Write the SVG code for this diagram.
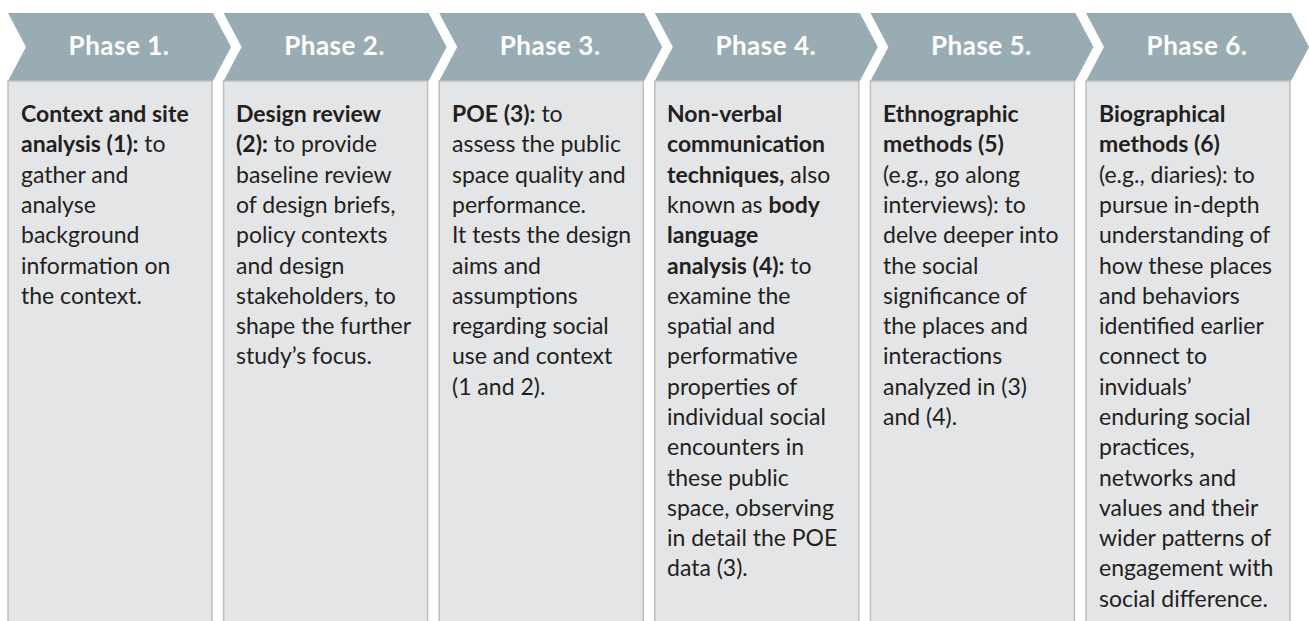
<svg xmlns="http://www.w3.org/2000/svg" width="1309" height="621" viewBox="0 0 1309 621">
<style>
.chev{fill:#9AACB3}
.box{fill:#E4E5E7;stroke:#BDBEC1;stroke-width:1.5}
.hd{font-family:Lato,"Open Sans",sans-serif;font-weight:bold;font-size:26px;letter-spacing:0.5px;fill:#FFFFFF;text-anchor:middle}
.bd{font-family:Lato,"Open Sans",sans-serif;font-size:23px;fill:#231F20}
.b{font-weight:bold}
</style>
<rect width="1309" height="621" fill="#FFFFFF"/>
<g id="phase1">
<polygon class="chev" points="8,13 213,13 231,47 213,81 8,81 26,47"/>
<rect class="box" x="8" y="81" width="204" height="560"/>
<text class="hd" x="119" y="55">Phase 1.</text>
<text class="bd" x="21" y="122"><tspan class="b">Context and site</tspan><tspan x="21" dy="30.3" class="b">analysis (1):</tspan> to<tspan x="21" dy="30.3">gather and</tspan><tspan x="21" dy="30.3">analyse</tspan><tspan x="21" dy="30.3">background</tspan><tspan x="21" dy="30.3">information on</tspan><tspan x="21" dy="30.3">the context.</tspan></text>
</g>
<g id="phase2">
<polygon class="chev" points="223.6,13 428.6,13 446.6,47 428.6,81 223.6,81 241.6,47"/>
<rect class="box" x="223.6" y="81" width="204" height="560"/>
<text class="hd" x="334.6" y="55">Phase 2.</text>
<text class="bd" x="236" y="122"><tspan class="b">Design review</tspan><tspan x="236" dy="30.3" class="b">(2):</tspan> to provide<tspan x="236" dy="30.3">baseline review</tspan><tspan x="236" dy="30.3">of design briefs,</tspan><tspan x="236" dy="30.3">policy contexts</tspan><tspan x="236" dy="30.3">and design</tspan><tspan x="236" dy="30.3">stakeholders, to</tspan><tspan x="236" dy="30.3">shape the further</tspan><tspan x="236" dy="30.3">study’s focus.</tspan></text>
</g>
<g id="phase3">
<polygon class="chev" points="439.2,13 644.2,13 662.2,47 644.2,81 439.2,81 457.2,47"/>
<rect class="box" x="439.2" y="81" width="204" height="560"/>
<text class="hd" x="550.2" y="55">Phase 3.</text>
<text class="bd" x="452" y="122"><tspan class="b">POE (3):</tspan> to<tspan x="452" dy="30.3">assess the public</tspan><tspan x="452" dy="30.3">space quality and</tspan><tspan x="452" dy="30.3">performance.</tspan><tspan x="452" dy="30.3">It tests the design</tspan><tspan x="452" dy="30.3">aims and</tspan><tspan x="452" dy="30.3">assumptions</tspan><tspan x="452" dy="30.3">regarding social</tspan><tspan x="452" dy="30.3">use and context</tspan><tspan x="452" dy="30.3">(1 and 2).</tspan></text>
</g>
<g id="phase4">
<polygon class="chev" points="654.8,13 859.8,13 877.8,47 859.8,81 654.8,81 672.8,47"/>
<rect class="box" x="654.8" y="81" width="204" height="560"/>
<text class="hd" x="765.8" y="55">Phase 4.</text>
<text class="bd" x="667" y="122"><tspan class="b">Non-verbal</tspan><tspan x="667" dy="30.3" class="b">communication</tspan><tspan x="667" dy="30.3" class="b">techniques,</tspan> also<tspan x="667" dy="30.3">known as </tspan><tspan class="b">body</tspan><tspan x="667" dy="30.3" class="b">language</tspan><tspan x="667" dy="30.3" class="b">analysis (4):</tspan> to<tspan x="667" dy="30.3">examine the</tspan><tspan x="667" dy="30.3">spatial and</tspan><tspan x="667" dy="30.3">performative</tspan><tspan x="667" dy="30.3">properties of</tspan><tspan x="667" dy="30.3">individual social</tspan><tspan x="667" dy="30.3">encounters in</tspan><tspan x="667" dy="30.3">these public</tspan><tspan x="667" dy="30.3">space, observing</tspan><tspan x="667" dy="30.3">in detail the POE</tspan><tspan x="667" dy="30.3">data (3).</tspan></text>
</g>
<g id="phase5">
<polygon class="chev" points="870.4,13 1075.4,13 1093.4,47 1075.4,81 870.4,81 888.4,47"/>
<rect class="box" x="870.4" y="81" width="204" height="560"/>
<text class="hd" x="981.4" y="55">Phase 5.</text>
<text class="bd" x="883" y="122"><tspan class="b">Ethnographic</tspan><tspan x="883" dy="30.3" class="b">methods (5)</tspan><tspan x="883" dy="30.3">(e.g., go along</tspan><tspan x="883" dy="30.3">interviews): to</tspan><tspan x="883" dy="30.3">delve deeper into</tspan><tspan x="883" dy="30.3">the social</tspan><tspan x="883" dy="30.3">significance of</tspan><tspan x="883" dy="30.3">the places and</tspan><tspan x="883" dy="30.3">interactions</tspan><tspan x="883" dy="30.3">analyzed in (3)</tspan><tspan x="883" dy="30.3">and (4).</tspan></text>
</g>
<g id="phase6">
<polygon class="chev" points="1086,13 1291,13 1309,47 1291,81 1086,81 1104,47"/>
<rect class="box" x="1086" y="81" width="204" height="560"/>
<text class="hd" x="1197" y="55">Phase 6.</text>
<text class="bd" x="1099" y="122"><tspan class="b">Biographical</tspan><tspan x="1099" dy="30.3" class="b">methods (6)</tspan><tspan x="1099" dy="30.3">(e.g., diaries): to</tspan><tspan x="1099" dy="30.3">pursue in-depth</tspan><tspan x="1099" dy="30.3">understanding of</tspan><tspan x="1099" dy="30.3">how these places</tspan><tspan x="1099" dy="30.3">and behaviors</tspan><tspan x="1099" dy="30.3">identified earlier</tspan><tspan x="1099" dy="30.3">connect to</tspan><tspan x="1099" dy="30.3">inviduals’</tspan><tspan x="1099" dy="30.3">enduring social</tspan><tspan x="1099" dy="30.3">practices,</tspan><tspan x="1099" dy="30.3">networks and</tspan><tspan x="1099" dy="30.3">values and their</tspan><tspan x="1099" dy="30.3">wider patterns of</tspan><tspan x="1099" dy="30.3">engagement with</tspan><tspan x="1099" dy="30.3">social difference.</tspan></text>
</g>
<g id="connectors"/>
</svg>
